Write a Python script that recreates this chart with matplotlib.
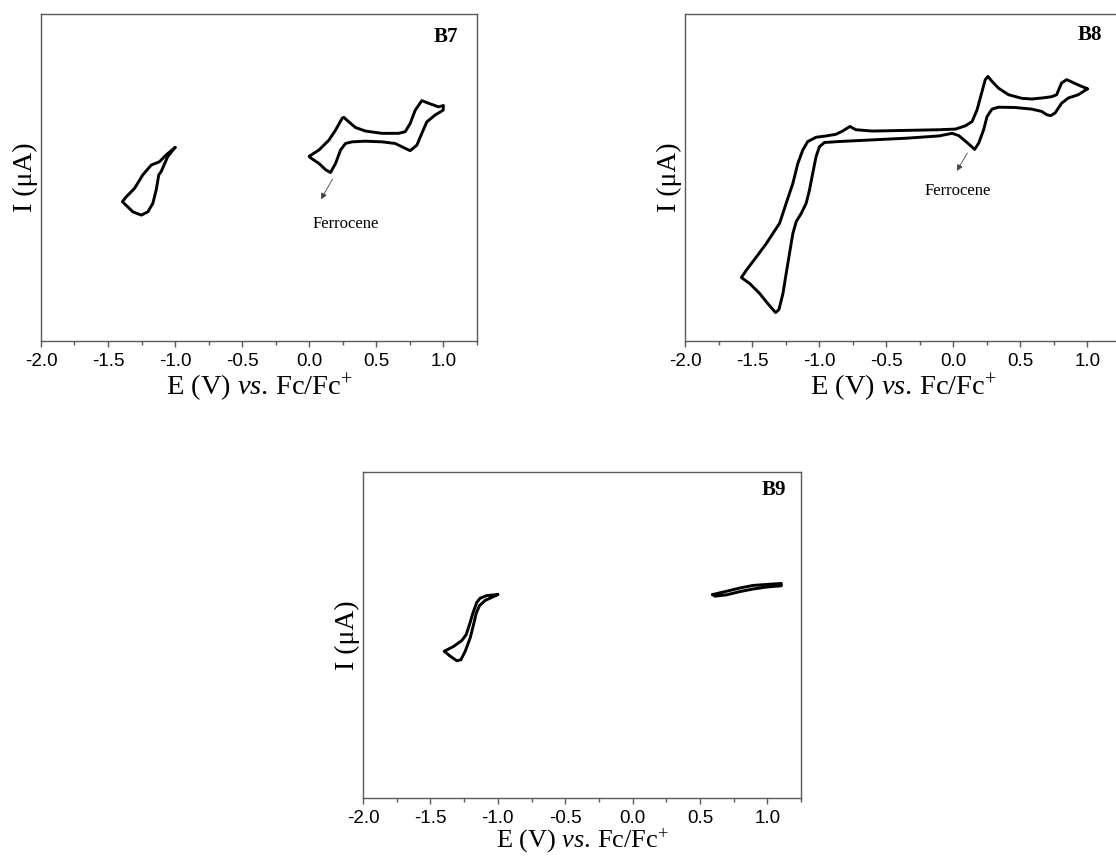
import matplotlib
matplotlib.use('Agg')
import matplotlib.pyplot as plt
import numpy as np

plt.rcParams['mathtext.fontset'] = 'custom'
plt.rcParams['mathtext.rm'] = 'Liberation Serif'
plt.rcParams['mathtext.it'] = 'Liberation Serif:italic'
plt.rcParams['mathtext.bf'] = 'Liberation Serif:bold'

# ---------------- data (E in V vs Fc/Fc+, I in arbitrary units) ----------------
b7_left_E = [-1.000, -1.055, -1.104, -1.122, -1.141, -1.166, -1.203, -1.252, -1.315, -1.393,
             -1.364, -1.302, -1.241, -1.178, -1.117, -1.067, -1.000]
b7_left_I = [59.2, 56.4, 51.8, 50.8, 46.2, 42.1, 39.5, 38.5, 39.5, 42.6,
             44.1, 46.7, 50.8, 53.8, 54.8, 56.9, 59.2]

b7_right_E = [0.0, 0.072, 0.146, 0.196, 0.245, 0.257, 0.295, 0.344, 0.418, 0.542, 0.666, 0.715,
              0.752, 0.790, 0.839, 0.889, 0.963, 1.0, 0.998, 0.938, 0.876, 0.839, 0.802, 0.752,
              0.715, 0.641, 0.542, 0.418, 0.319, 0.270, 0.233, 0.196, 0.158, 0.121, 0.072, 0.01, 0.0]
b7_right_I = [56.5, 58.4, 61.4, 64.5, 68.1, 68.4, 67.0, 65.3, 64.2, 63.5, 63.5, 64.0,
              66.5, 70.6, 73.5, 72.7, 71.6, 72.0, 70.6, 69.1, 67.0, 63.5, 59.9, 58.2,
              58.9, 60.4, 60.9, 61.1, 60.9, 60.4, 58.4, 54.3, 51.5, 52.4, 54.3, 56.0, 56.5]

b8_E = [1.0, 0.931, 0.857, 0.844, 0.807, 0.770, 0.733, 0.659, 0.585, 0.511, 0.412, 0.337, 0.288,
        0.258, 0.238, 0.214, 0.177, 0.140, 0.090, 0.016, -0.108, -0.355, -0.603, -0.726, -0.771,
        -0.825, -0.875, -0.949, -1.023, -1.085, -1.122, -1.159, -1.196, -1.246, -1.295, -1.345,
        -1.394, -1.468, -1.542, -1.580,
        -1.518, -1.443, -1.382, -1.325, -1.300, -1.270, -1.246, -1.221, -1.196, -1.171, -1.134,
        -1.097, -1.072, -1.048, -1.023, -0.998, -0.961, -0.850, -0.603, -0.355, -0.108, -0.009,
        0.041, 0.102, 0.159, 0.189, 0.226, 0.251, 0.288, 0.337, 0.461, 0.585, 0.659, 0.696,
        0.726, 0.758, 0.807, 0.857, 0.931, 1.0]
b8_I = [77.1, 78.3, 79.7, 79.9, 78.9, 75.3, 74.7, 74.3, 74.0, 74.2, 75.3, 77.3, 79.4,
        80.9, 79.9, 76.3, 70.7, 67.1, 65.8, 64.8, 64.6, 64.4, 64.2, 64.6, 65.6,
        64.2, 63.2, 62.7, 62.3, 61.0, 58.4, 54.3, 48.2, 42.1, 36.0, 32.9,
        29.8, 25.7, 21.7, 19.4,
        17.6, 14.5, 11.4, 8.7, 9.6, 14.5, 20.6, 26.8, 32.9, 36.5, 39.0,
        42.1, 46.2, 51.3, 56.4, 59.4, 60.7, 61.0, 61.5, 62.0, 62.7, 63.5,
        62.8, 60.7, 58.6, 60.5, 64.6, 68.6, 70.9, 71.5, 71.4, 70.9, 70.2, 69.2,
        68.9, 69.7, 72.7, 74.3, 75.3, 77.1]

b9_left_E = [-1.0, -1.081, -1.131, -1.156, -1.185, -1.210, -1.235, -1.267, -1.328, -1.398,
             -1.353, -1.304, -1.274, -1.242, -1.205, -1.180, -1.160, -1.136, -1.094, -1.0]
b9_left_I = [62.4, 62.1, 61.3, 60.0, 56.7, 53.2, 50.1, 48.3, 46.5, 45.0,
             43.5, 42.1, 42.4, 45.0, 49.1, 53.2, 56.7, 59.0, 60.6, 62.4]

b9_right_E = [0.593, 0.696, 0.795, 0.894, 0.993, 1.104, 1.104, 0.993, 0.894, 0.795, 0.696, 0.610, 0.593]
b9_right_I = [62.4, 63.4, 64.4, 65.2, 65.5, 65.8, 65.1, 64.7, 64.1, 63.3, 62.3, 61.9, 62.4]

x_major = [-2.0, -1.5, -1.0, -0.5, 0.0, 0.5, 1.0]
x_minor = [-1.75, -1.25, -0.75, -0.25, 0.25, 0.75, 1.25]
x_ticklabels = ['-2.0', '-1.5', '-1.0', '-0.5', '0.0', '0.5', '1.0']

panel_names = ['B7', 'B8', 'B9']
panel_label_pos = {'B7': (1.017, 93.1), 'B8': (1.018, 93.6), 'B9': (1.049, 94.6)}
xlabel_pad = {'B7': 1, 'B8': 1, 'B9': -0.5}
xlabel_size = {'B7': 20.5, 'B8': 20.5, 'B9': 19}

# ---------------- figure ----------------
fig = plt.figure(figsize=(11.16, 8.57), dpi=100)
positions = {
    'B7': [0.0367, 0.6021, 0.3907, 0.3816],
    'B8': [0.6138, 0.6021, 0.3907, 0.3816],
    'B9': [0.3253, 0.0688, 0.3925, 0.3805],
}
spine_col = '#5a5a5a'
curve_kw = dict(color='black', lw=2.1, solid_joinstyle='round', solid_capstyle='round')

axes = {}
for name in panel_names:
    ax = fig.add_axes(positions[name])
    axes[name] = ax
    ax.set_xlim(-2.0, 1.25)
    ax.set_ylim(0, 100)
    ax.set_xticks(x_major)
    ax.set_xticklabels(x_ticklabels, fontfamily='Liberation Sans', fontsize=13.5)
    ax.set_xticks(x_minor, minor=True)
    ax.set_yticks([])
    ax.tick_params(axis='x', which='major', direction='out', length=4, width=1,
                   color=spine_col, pad=4.5)
    ax.tick_params(axis='x', which='minor', direction='out', length=3, width=1,
                   color=spine_col)
    for s in ax.spines.values():
        s.set_color(spine_col)
        s.set_linewidth(1.0)
    ax.set_xlabel(r'E (V) $\it{vs}$. Fc/Fc$^{+}$', fontfamily='Liberation Serif',
                  fontsize=xlabel_size[name], labelpad=xlabel_pad[name])
    ax.set_ylabel('I (\u03bcA)', fontfamily='Liberation Serif', fontsize=20, labelpad=2)
    lx, ly = panel_label_pos[name]
    ax.text(lx, ly, name, fontfamily='Liberation Serif', fontweight='bold', fontsize=15,
            ha='center', va='center')

ax = axes['B7']
ax.plot(b7_left_E, b7_left_I, **curve_kw)
ax.plot(b7_right_E, b7_right_I, **curve_kw)
ax.annotate('', xy=(0.077, 42.6), xytext=(0.183, 50.2),
            arrowprops=dict(arrowstyle='-|>', color='#444444', lw=0.6, mutation_scale=9))
ax.text(0.272, 35.7, 'Ferrocene', fontfamily='Liberation Serif', fontsize=12,
        ha='center', va='center')

ax = axes['B8']
ax.plot(b8_E, b8_I, **curve_kw)
ax.annotate('', xy=(0.016, 51.3), xytext=(0.115, 58.2),
            arrowprops=dict(arrowstyle='-|>', color='#444444', lw=0.6, mutation_scale=9))
ax.text(0.033, 45.9, 'Ferrocene', fontfamily='Liberation Serif', fontsize=12,
        ha='center', va='center')

ax = axes['B9']
ax.plot(b9_left_E, b9_left_I, **curve_kw)
ax.plot(b9_right_E, b9_right_I, **curve_kw)

fig.savefig('out.png', dpi=100, facecolor='white')
